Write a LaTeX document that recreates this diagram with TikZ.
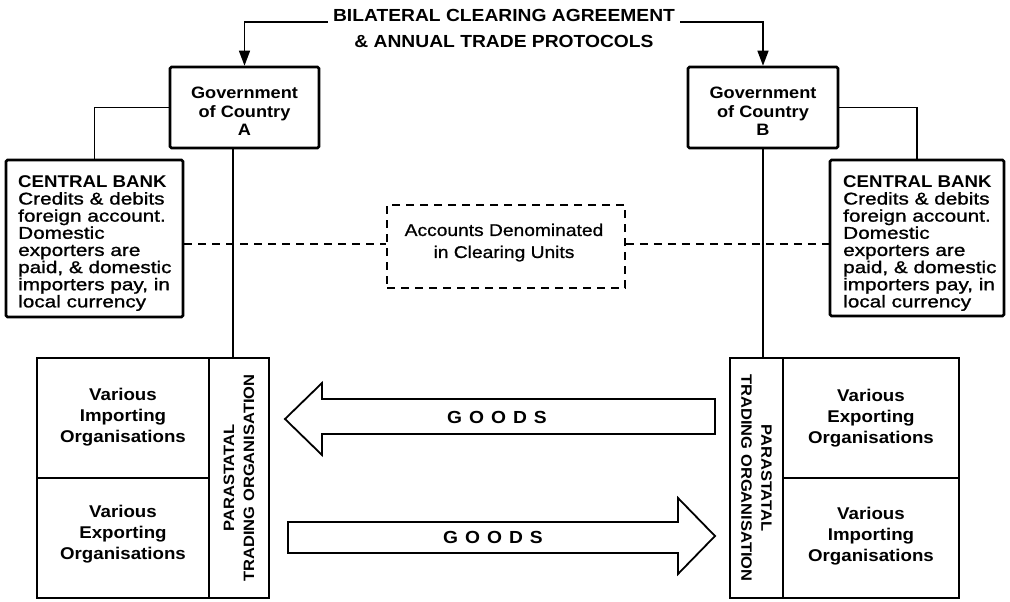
\documentclass[tikz,border=0pt]{standalone}
\usepackage{fontspec}
\setmainfont{Liberation Sans}[FakeStretch=1.1]
\newfontfamily\bodyfont{Liberation Sans}[FakeStretch=1.22,FakeBold=1.2]
\newfontfamily\accfont{Liberation Sans}[FakeStretch=1.13,FakeBold=0.8]
\usetikzlibrary{arrows.meta}
\newcommand{\goodsword}{G\hspace{7pt}O\hspace{7pt}O\hspace{7pt}D\hspace{7pt}S}
\begin{document}
\begin{tikzpicture}[x=1pt,y=-1pt,
  thickbox/.style={draw, line width=2.6pt, rounded corners=1.5pt, inner sep=0pt},
  cellbox/.style={draw, line width=2.1pt, inner sep=0pt},
  conn/.style={line width=1.4pt},
  dashconn/.style={line width=1.7pt, dash pattern=on 8pt off 6pt},
  goodsarrow/.style={draw, line width=1.8pt, line join=miter},
  titletxt/.style={font=\bfseries\fontsize{17.5}{20}\selectfont, inner sep=0pt},
  govtxt/.style={font=\bfseries\fontsize{16.5}{18.5}\selectfont, align=center, inner sep=0pt},
  cbtxt/.style={font=\bodyfont\fontsize{17}{17.14}\selectfont, align=left, inner sep=0pt},
  acctxt/.style={font=\accfont\fontsize{17}{22}\selectfont, align=center, inner sep=0pt},
  celltxt/.style={font=\bfseries\fontsize{17}{21}\selectfont, align=center},
  striptxt/.style={font=\bfseries\fontsize{15}{20}\selectfont, align=center, inner sep=0pt},
  goodstxt/.style={font=\bfseries\fontsize{17.5}{20}\selectfont, inner sep=0pt},
  tip/.style={-{Triangle[length=15pt,width=11pt]}}
]
\useasboundingbox (0,0) rectangle (1010,602);

% title
\node[titletxt, anchor=base] (t1) at (504,22) {BILATERAL CLEARING AGREEMENT};
\node[titletxt, anchor=base] (t2) at (504,48) {\& ANNUAL TRADE PROTOCOLS};

% governments
\node[thickbox, minimum width=149pt, minimum height=81pt] (govA) at (244.5,107.5) {};
\node[govtxt] (govAt) at (244.5,111.5) {Government\\of Country\\A};
\node[thickbox, minimum width=150pt, minimum height=81pt] (govB) at (763,107.5) {};
\node[govtxt] (govBt) at (763,111.5) {Government\\of Country\\B};

\draw[conn, tip] ([xshift=-5pt]t1.base west) -| (govA.north);
\draw[conn, tip] ([xshift=5pt]t1.base east) -| (govB.north);

% central banks
\node[thickbox, minimum width=177pt, minimum height=157pt] (cbA) at (94.5,238.5) {};
\node[cbtxt, anchor=north west] (cbAt) at (18,175.3) {{\normalfont\bfseries CENTRAL BANK}\\Credits \& debits\\foreign account.\\Domestic\\exporters are\\paid, \& domestic\\importers pay, in\\local currency};
\node[thickbox, minimum width=174pt, minimum height=156pt] (cbB) at (917,238) {};
\node[cbtxt, anchor=north west] (cbBt) at (843,175.3) {{\normalfont\bfseries CENTRAL BANK}\\Credits \& debits\\foreign account.\\Domestic\\exporters are\\paid, \& domestic\\importers pay, in\\local currency};

\draw[conn] (govA.west) -| (cbA.north);
\draw[conn] (govB.east) -| (cbB.north);

% accounts
\node[draw, dashconn, minimum width=238pt, minimum height=83pt, inner sep=0pt] (acc) at (506,246.5) {};
\node[acctxt] (acct) at (504,242.6) {Accounts Denominated\\in Clearing Units};
\coordinate (dl) at (0,244);
\draw[dashconn] (cbA.east |- dl) -- (acc.west |- dl);
\draw[dashconn] (acc.east |- dl) -- (cbB.west |- dl);

% parastatal A
\node[cellbox, minimum width=172pt, minimum height=120pt] (impA) at (123,418) {};
\node[celltxt] (impAt) at (123,417) {Various\\Importing\\Organisations};
\node[cellbox, minimum width=172pt, minimum height=120pt] (expA) at (123,538) {};
\node[celltxt] (expAt) at (123,534) {Various\\Exporting\\Organisations};
\node[cellbox, minimum width=60pt, minimum height=240pt] (ptoA) at (239,478) {};
\node[striptxt, rotate=90] (ptoAt) at (ptoA.center) {PARASTATAL\\TRADING ORGANISATION};

% parastatal B
\node[cellbox, minimum width=53pt, minimum height=240pt] (ptoB) at (756.5,478) {};
\node[striptxt, rotate=-90] (ptoBt) at (ptoB.center) {PARASTATAL\\TRADING ORGANISATION};
\node[cellbox, minimum width=176pt, minimum height=120pt] (expB) at (871,418) {};
\node[celltxt] (expBt) at (871,418) {Various\\Exporting\\Organisations};
\node[cellbox, minimum width=176pt, minimum height=120pt] (impB) at (871,538) {};
\node[celltxt] (impBt) at (871,536) {Various\\Importing\\Organisations};

% vertical links
\coordinate (jA) at (233,358);
\draw[conn] (govA.south -| jA) -- (jA);
\draw[conn] (govB.south) -- (govB.south |- ptoB.north);

% goods arrows
\draw[goodsarrow] (715,399) -- (322,399) -- (322,383) -- (285,419) -- (322,455) -- (322,434) -- (715,434) -- cycle;
\node[goodstxt] (g1) at (497,417) {\goodsword};
\draw[goodsarrow] (288,522) -- (678,522) -- (678,498) -- (715,536) -- (678,574) -- (678,553) -- (288,553) -- cycle;
\node[goodstxt] (g2) at (493,537) {\goodsword};
\end{tikzpicture}
\end{document}
